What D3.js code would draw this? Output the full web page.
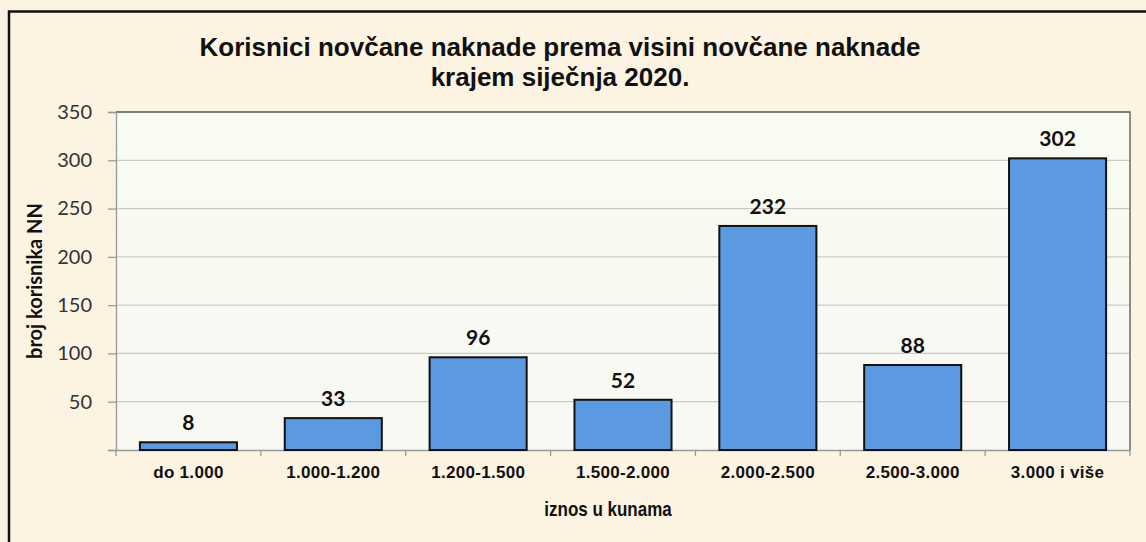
<!DOCTYPE html>
<html>
<head>
<meta charset="utf-8">
<script src="https://cdn.jsdelivr.net/npm/d3@7"></script>
<style>
  html, body { margin: 0; padding: 0; background: #fdf3e2; }
  svg { display: block; }
</style>
</head>
<body>
<svg id="chart"></svg>
<script>
const width = 1146;
const height = 542;

const categories = ['do 1.000', '1.000-1.200', '1.200-1.500', '1.500-2.000', '2.000-2.500', '2.500-3.000', '3.000 i više'];
const values = [8, 33, 96, 52, 232, 88, 302];
const yTicks = [0, 50, 100, 150, 200, 250, 300, 350];
const titleLines = ['Korisnici novčane naknade prema visini novčane naknade', 'krajem siječnja 2020.'];

const plot = { left: 116, right: 1130, top: 112, bottom: 450 };

const svg = d3.select('#chart')
    .attr('width', width)
    .attr('height', height);

const defs = svg.append('defs');
const grad = defs.append('linearGradient')
    .attr('id', 'plotBg')
    .attr('x1', 0).attr('y1', 0).attr('x2', 0).attr('y2', 1);
grad.append('stop').attr('offset', '0%').attr('stop-color', '#f8fcf1');
grad.append('stop').attr('offset', '100%').attr('stop-color', '#f9f8f3');

// outer background + frame
svg.append('rect')
    .attr('x', 0).attr('y', 0)
    .attr('width', width).attr('height', height)
    .attr('fill', '#fdf3e2');

svg.append('path')
    .attr('d', `M9,${height + 5} L9,11.5 L${width + 5},11.5`)
    .attr('fill', 'none')
    .attr('stroke', '#111')
    .attr('stroke-width', 2.5);

const x = d3.scaleBand()
    .domain(categories)
    .range([plot.left, plot.right])
    .paddingInner(0.33)
    .paddingOuter(0.165);

const xCat = d3.scaleBand()
    .domain(categories)
    .range([plot.left, plot.right]);

const y = d3.scaleLinear()
    .domain([0, 350])
    .range([plot.bottom, plot.top]);

// plot area
svg.append('rect')
    .attr('x', plot.left).attr('y', plot.top)
    .attr('width', plot.right - plot.left)
    .attr('height', plot.bottom - plot.top)
    .attr('fill', 'url(#plotBg)');

// gridlines
svg.append('g')
    .selectAll('line')
    .data(yTicks.filter(d => d > 0 && d < 350))
    .enter()
    .append('line')
    .attr('x1', plot.left).attr('x2', plot.right)
    .attr('y1', d => y(d)).attr('y2', d => y(d))
    .attr('stroke', '#cbcbc6')
    .attr('stroke-width', 1.3);

// plot border (top/right darker)
svg.append('path')
    .attr('d', `M${plot.left},${plot.top} L${plot.right},${plot.top} L${plot.right},${plot.bottom}`)
    .attr('fill', 'none')
    .attr('stroke', '#555')
    .attr('stroke-width', 1.3);

// y axis
const yAxis = svg.append('g')
    .attr('transform', `translate(${plot.left}, 0)`)
    .call(d3.axisLeft(y).tickValues(yTicks).tickSize(8).tickPadding(16)
        .tickFormat(d => d === 0 ? '' : d));
yAxis.select('.domain').attr('stroke', '#999').attr('stroke-width', 1.3);
yAxis.selectAll('.tick line').attr('stroke', '#999').attr('stroke-width', 1.3);
yAxis.selectAll('.tick text')
    .attr('fill', '#333')
    .style('font-family', 'Lato, "Open Sans", sans-serif')
    .style('font-size', '20px');

// x axis
const xAxis = svg.append('g')
    .attr('transform', `translate(0, ${plot.bottom})`)
    .call(d3.axisBottom(xCat).tickSize(0).tickPadding(16));
xAxis.select('.domain').attr('stroke', '#999').attr('stroke-width', 1.3);
xAxis.selectAll('.tick text')
    .attr('fill', '#111')
    .style('font-family', '"Liberation Sans", Arial, sans-serif')
    .style('font-weight', 'bold')
    .style('font-size', '17px')
    .style('letter-spacing', '0.3px');

svg.append('g')
    .selectAll('line')
    .data(categories.concat(['end']))
    .enter()
    .append('line')
    .attr('x1', (d, i) => i < categories.length ? xCat(d) : plot.right)
    .attr('x2', (d, i) => i < categories.length ? xCat(d) : plot.right)
    .attr('y1', plot.bottom)
    .attr('y2', plot.bottom + 6)
    .attr('stroke', '#999')
    .attr('stroke-width', 1.3);

// bars
svg.append('g')
    .selectAll('rect')
    .data(values)
    .enter()
    .append('rect')
    .attr('x', (d, i) => x(categories[i]))
    .attr('y', d => y(d))
    .attr('width', x.bandwidth())
    .attr('height', d => plot.bottom - y(d))
    .attr('fill', '#5b99e0')
    .attr('stroke', '#111')
    .attr('stroke-width', 2);

// value labels
svg.append('g')
    .selectAll('text')
    .data(values)
    .enter()
    .append('text')
    .attr('x', (d, i) => x(categories[i]) + x.bandwidth() / 2)
    .attr('y', d => y(d) - 12)
    .attr('text-anchor', 'middle')
    .attr('fill', '#111')
    .style('font-family', 'Lato, "Open Sans", sans-serif')
    .style('font-weight', 'bold')
    .style('font-size', '21px')
    .text(d => d);

// title
svg.append('text')
    .attr('x', 560)
    .attr('text-anchor', 'middle')
    .attr('fill', '#111')
    .style('font-family', '"Liberation Sans", Arial, sans-serif')
    .style('font-weight', 'bold')
    .style('font-size', '26px')
    .selectAll('tspan')
    .data(titleLines)
    .enter()
    .append('tspan')
    .attr('x', 560)
    .attr('y', (d, i) => 56 + i * 30)
    .text(d => d);

// axis titles (narrow look: scaled horizontally)
svg.append('text')
    .attr('transform', 'translate(608, 516) scale(0.85, 1)')
    .attr('text-anchor', 'middle')
    .attr('fill', '#111')
    .style('font-family', '"Liberation Sans", Arial, sans-serif')
    .style('font-weight', 'bold')
    .style('font-size', '20px')
    .text('iznos u kunama');

svg.append('text')
    .attr('transform', `translate(42, ${(plot.top + plot.bottom) / 2}) rotate(-90)`)
    .attr('text-anchor', 'middle')
    .attr('fill', '#111')
    .style('font-family', 'Lato, "Open Sans", sans-serif')
    .style('font-weight', 'bold')
    .style('font-size', '20px')
    .text('broj korisnika NN');
</script>
</body>
</html>
